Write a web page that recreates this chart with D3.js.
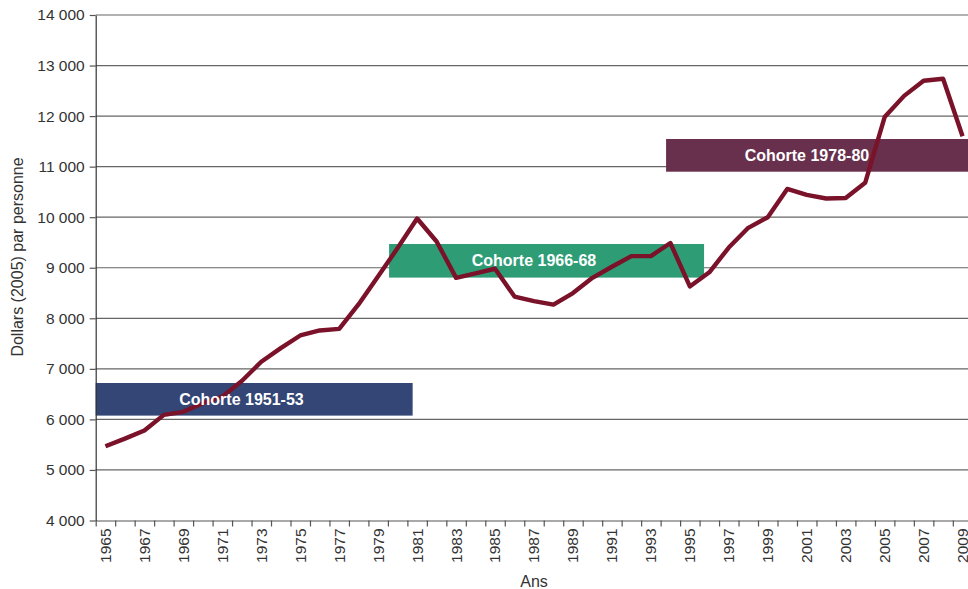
<!DOCTYPE html>
<html>
<head>
<meta charset="utf-8">
<script src="https://cdn.jsdelivr.net/npm/d3@7"></script>
<style>
  body { margin: 0; background: #fff; }
  svg { display: block; font-family: "Liberation Sans", Arial, sans-serif; }
  .grid line { stroke: #666; stroke-width: 1.2; }
  .axis path, .axis line { stroke: #555; stroke-width: 1.2; }
  .axis text { fill: #333; }
</style>
</head>
<body>
<svg width="968" height="589"></svg>
<script>
var years = d3.range(1965, 2010);
var revenu = [
  5470, 5620, 5780, 6090, 6150, 6320, 6450, 6760, 7140, 7410,
  7660, 7760, 7790, 8280, 8830, 9390, 9975, 9520, 8800, 8890,
  8980, 8430, 8340, 8270, 8500, 8800, 9020, 9230, 9230, 9490,
  8630, 8910, 9400, 9790, 10000, 10560, 10440, 10370, 10380, 10680,
  11980, 12400, 12700, 12740, 11600
];
var yTicks = d3.range(4000, 14001, 1000);
var labelYears = years.filter(function(d) { return d % 2 === 1; });

// cohort boxes: start year, end year, low value, high value
var cohortNames = ['Cohorte 1951-53', 'Cohorte 1966-68', 'Cohorte 1978-80'];
var cohortStart = [1964.5, 1979.56, 1993.78];
var cohortEnd = [1980.77, 1995.73, 2009.5];
var cohortLow = [6075, 8805, 10900];
var cohortHigh = [6720, 9470, 11547];
var cohortColors = ['#334675', '#2e9d76', '#69304e'];

var svg = d3.select('svg'),
  width = +svg.attr('width'),
  height = +svg.attr('height');

var x = d3.scaleLinear().domain([1964.5, 2009.5]).range([95.7, 972.3]);
var y = d3.scaleLinear().domain([4000, 14000]).range([520.5, 15]);

var fmt = function(d) { return d3.format(',')(d).replace(',', ' '); };

// gridlines
svg.append('g')
  .attr('class', 'grid')
  .selectAll('line')
  .data(yTicks.slice(1))
  .enter()
  .append('line')
  .attr('x1', x.range()[0])
  .attr('x2', width)
  .attr('y1', function(d) { return y(d); })
  .attr('y2', function(d) { return y(d); });

// cohort boxes
var cohorts = cohortNames.map(function(name, i) {
  return { name: name, x0: cohortStart[i], x1: cohortEnd[i], lo: cohortLow[i], hi: cohortHigh[i], color: cohortColors[i] };
});

svg.append('g')
  .selectAll('rect')
  .data(cohorts)
  .enter()
  .append('rect')
  .attr('x', function(d) { return x(d.x0); })
  .attr('y', function(d) { return y(d.hi); })
  .attr('width', function(d) { return x(d.x1) - x(d.x0); })
  .attr('height', function(d) { return y(d.lo) - y(d.hi); })
  .attr('fill', function(d) { return d.color; });

// bottom axis: ticks between years
svg.append('g')
  .attr('class', 'axis')
  .attr('transform', 'translate(0,' + y(4000) + ')')
  .call(d3.axisBottom(x)
    .tickValues(d3.range(1964.5, 2010, 1))
    .tickSize(6)
    .tickSizeOuter(0)
    .tickFormat(''));

// year labels
svg.append('g')
  .attr('class', 'axis')
  .selectAll('text')
  .data(labelYears)
  .enter()
  .append('text')
  .attr('transform', function(d) { return 'translate(' + x(d) + ',' + (y(4000) + 8) + ') rotate(-90)'; })
  .attr('text-anchor', 'end')
  .attr('dy', '0.35em')
  .style('font-size', '15.5px')
  .text(function(d) { return d; });

// left axis
var yAxis = svg.append('g')
  .attr('class', 'axis')
  .attr('transform', 'translate(' + x.range()[0] + ',0)')
  .call(d3.axisLeft(y)
    .tickValues(yTicks)
    .tickSize(6)
    .tickSizeOuter(0)
    .tickPadding(5)
    .tickFormat(fmt));
yAxis.selectAll('text').style('font-size', '15.5px').attr('font-family', null);
yAxis.select('.domain').style('stroke', '#333');

// the line
var line = d3.line()
  .x(function(d, i) { return x(years[i]); })
  .y(function(d) { return y(d); });

svg.append('path')
  .datum(revenu)
  .attr('fill', 'none')
  .attr('stroke', '#7a1229')
  .attr('stroke-width', 4.4)
  .attr('stroke-linejoin', 'round')
  .attr('d', line);

// box labels on top of the line
svg.append('g')
  .selectAll('text')
  .data(cohorts)
  .enter()
  .append('text')
  .attr('x', function(d) { return x(d.x0) + (x(d.x1) - x(d.x0)) * 0.46; })
  .attr('y', function(d) { return (y(d.lo) + y(d.hi)) / 2; })
  .attr('dy', '0.35em')
  .attr('text-anchor', 'middle')
  .attr('fill', '#fff')
  .style('font-weight', 'bold')
  .style('font-size', '16px')
  .text(function(d) { return d.name; });

// axis titles
svg.append('text')
  .attr('transform', 'translate(23,257) rotate(-90)')
  .attr('text-anchor', 'middle')
  .attr('fill', '#333')
  .style('font-size', '16px')
  .text('Dollars (2005) par personne');

svg.append('text')
  .attr('x', 534)
  .attr('y', 587)
  .attr('text-anchor', 'middle')
  .attr('fill', '#333')
  .style('font-size', '16px')
  .text('Ans');
</script>
</body>
</html>
